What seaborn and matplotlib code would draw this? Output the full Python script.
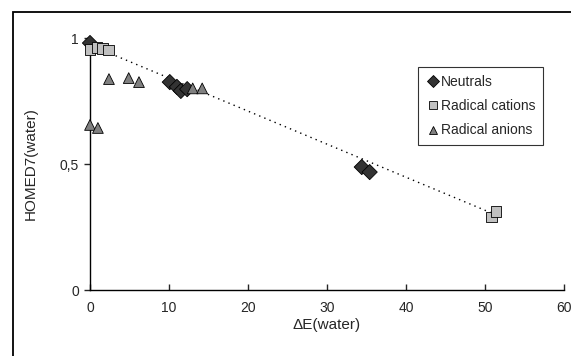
import matplotlib
matplotlib.use("Agg")
import matplotlib.pyplot as plt
from matplotlib.patches import Rectangle
import numpy as np
import pandas as pd
import seaborn as sns

# values
neutral_de = [0.0, 10.1, 11.0, 11.5, 12.3, 34.4, 35.4]
neutral_homed = [0.98, 0.825, 0.806, 0.79, 0.797, 0.488, 0.468]
cation_de = [0.0, 0.9, 1.6, 2.3, 50.8, 51.4]
cation_homed = [0.955, 0.962, 0.958, 0.952, 0.29, 0.313]
anion_de = [0.0, 1.0, 2.4, 4.9, 6.2, 13.0, 14.2]
anion_homed = [0.655, 0.643, 0.837, 0.841, 0.825, 0.80, 0.80]

groups = ["Neutrals", "Radical cations", "Radical anions"]

df = pd.concat([
    pd.DataFrame({"dE": neutral_de, "homed": neutral_homed, "type": groups[0]}),
    pd.DataFrame({"dE": cation_de, "homed": cation_homed, "type": groups[1]}),
    pd.DataFrame({"dE": anion_de, "homed": anion_homed, "type": groups[2]}),
], ignore_index=True)

sns.set_style("white")
plt.rcParams["font.family"] = ["Liberation Sans", "DejaVu Sans"]

fig = plt.figure(figsize=(5.71, 3.56), dpi=100)
ax = fig.add_axes([90 / 571, 66 / 356, 474 / 571, 252 / 356])

# outer frame like the pasted chart area
fig.patches.append(Rectangle((13 / 571, -0.1), 1.2, 1.1 - 12 / 356,
                             transform=fig.transFigure, fill=False,
                             edgecolor="black", linewidth=1.3))

# linear trend through the radical cations
fit_x = np.array(cation_de)
fit_y = np.array(cation_homed)
k, b = np.polyfit(fit_x, fit_y, 1)
xs = np.array([fit_x.min(), fit_x.max()])
ax.plot(xs, k * xs + b, color="black", linestyle=(0, (1, 3)), linewidth=1.0, zorder=1)

sns.scatterplot(data=df, x="dE", y="homed", hue="type", style="type",
                hue_order=groups, style_order=groups,
                palette={groups[0]: "#333333", groups[1]: "#c0c0c0", groups[2]: "#808080"},
                markers={groups[0]: "D", groups[1]: "s", groups[2]: "^"},
                s=60, edgecolor="black", linewidth=0.6, ax=ax, zorder=3, clip_on=False)

ax.set_xlim(0, 60)
ax.set_ylim(0, 1)
ax.set_xticks([0, 10, 20, 30, 40, 50, 60])
ax.set_yticks([0, 0.5, 1])
ax.set_yticklabels(["0", "0,5", "1"])
ax.tick_params(axis="x", direction="in", length=4, width=1, labelsize=10, pad=8)
ax.tick_params(axis="y", direction="out", length=4, width=1, labelsize=10, pad=4)
ax.tick_params(left=True, bottom=True)
ax.set_xlabel("\u0394E(water)", fontsize=11, labelpad=2)
ax.set_ylabel("HOMED7(water)", fontsize=11, labelpad=16)
for side in ["top", "right"]:
    ax.spines[side].set_visible(False)
for side in ["left", "bottom"]:
    ax.spines[side].set_color("black")
    ax.spines[side].set_linewidth(1.0)

leg = ax.legend(loc="upper left", bbox_to_anchor=(0.692, 0.885), fontsize=10,
                frameon=True, fancybox=False, edgecolor="black",
                handletextpad=0.1, borderpad=0.55, labelspacing=0.75,
                handlelength=1.0, markerscale=0.8, borderaxespad=0)
leg.get_frame().set_linewidth(0.8)

fig.savefig("out.png", dpi=100)
